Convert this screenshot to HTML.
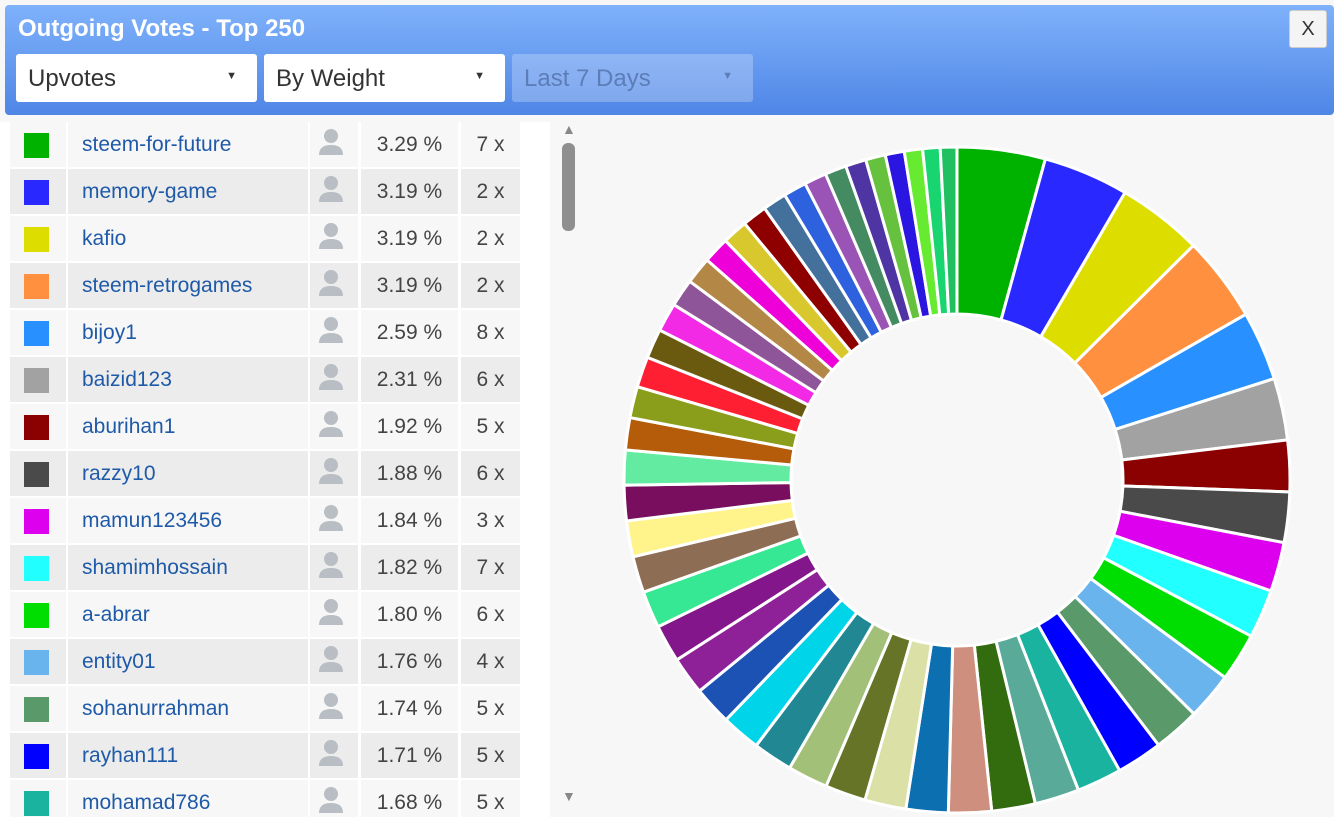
<!DOCTYPE html>
<html><head><meta charset="utf-8"><style>
body{margin:0;width:1334px;height:817px;background:#f7f7f7;font-family:"Liberation Sans",sans-serif;overflow:hidden;position:relative}
#hdr{position:absolute;left:5px;top:5px;width:1329px;height:110px;border-radius:4px;background:linear-gradient(#7fb2fb,#4f86e6);}
#title{position:absolute;left:13px;top:10px;color:#fff;font-weight:bold;font-size:24px}
.dd{position:absolute;top:49px;width:241px;height:48px;background:#fff;border-radius:3px;font-size:24px;color:#333;box-sizing:border-box;padding:11px 12px}
.dd span{position:absolute;right:20px;top:16px;font-size:11px}
#close{position:absolute;left:1284px;top:5px;width:38px;height:38px;background:#f4f4f4;border-radius:3px;border:1px solid #ccc;box-sizing:border-box;text-align:center;line-height:36px;font-size:20px;color:#333}
#list{position:absolute;left:0;top:122px;width:550px;height:695px;background:#fff;overflow:hidden}
.row{position:absolute;left:10px;width:510px;height:45px;font-size:21px}
.row div{position:absolute;top:0;height:45px;line-height:45px;box-sizing:border-box}
.sw{left:0;width:56px}.sw i{position:absolute;left:14px;top:11px;width:25px;height:25px}
.nm{left:58px;width:240px;padding-left:14px;color:#1f5aa8}
.ic{left:300px;width:48px}
.pc{left:351px;width:97px;text-align:center;color:#444}
.ct{left:451px;width:59px;text-align:center;color:#444}
#sb{position:absolute;left:562px;top:143px;width:13px;height:88px;border-radius:6px;background:#8f8f8f}
</style></head><body>
<div id="hdr">
<div id="title">Outgoing Votes - Top 250</div>
<div class="dd" style="left:11px">Upvotes<span>▼</span></div>
<div class="dd" style="left:259px">By Weight<span>▼</span></div>
<div class="dd" style="left:507px;background:rgba(255,255,255,0.25);color:#5d7db8">Last 7 Days<span>▼</span></div>
<div id="close">X</div>
</div>
<div id="list"></div>
<div style="position:absolute;left:562px;top:121px;font-size:14px;color:#888">▲</div>
<div id="sb"></div>
<div style="position:absolute;left:562px;top:788px;font-size:14px;color:#888">▼</div>
<svg id="chart" width="1334" height="817" style="position:absolute;left:0;top:0;pointer-events:none"></svg>
<script>
const names=["steem-for-future","memory-game","kafio","steem-retrogames","bijoy1","baizid123","aburihan1","razzy10","mamun123456","shamimhossain","a-abrar","entity01","sohanurrahman","rayhan111","mohamad786"];
const pcts=[3.29,3.19,3.19,3.19,2.59,2.31,1.92,1.88,1.84,1.82,1.80,1.76,1.74,1.71,1.68];
const counts=[7,2,2,2,8,6,5,6,3,7,6,4,5,5,5];
const restValues=[1.66,1.63,1.60,1.57,1.54,1.52,1.50,1.48,1.46,1.44,1.42,1.40,1.38,1.36,1.34,1.32,1.30,1.20,1.17,1.14,1.10,1.07,1.04,1.01,0.98,0.95,0.92,0.89,0.86,0.83,0.80,0.77,0.74,0.71,0.68,0.65,0.62];
const colors=["#00b200","#2929ff","#dddd00","#ff9040","#2890ff","#a2a2a2","#8b0000","#4a4a4a","#dd00ee","#22ffff","#00dd00","#6ab4ee","#5a9a6a","#0000ff","#1ab39f",
"#5aaa9a","#336b0f","#cf8f7e","#0b6fb0","#dbe0a6","#657426","#a3c079","#218893","#00d4e8","#1c52b4","#8e2197","#82168a","#36e893","#8e6d55","#fff48b","#790e5e","#62eba1","#b55c0a","#8a9e1b","#ff1f33","#6a5a10","#f22ae6","#8e5598","#b38746","#ee00d9","#d8c82d","#8e0000","#44709c","#2e61de","#9a54b5","#458b62","#4f34a3","#66c13f","#2a16e0","#66eb31","#18d570","#20c060"];
const list=document.getElementById('list');
names.forEach((n,i)=>{
 const r=document.createElement('div');r.className='row';r.style.top=(i*47)+'px';
 
 
 const bg=i%2?'#ececec':'#f7f7f7';
 r.innerHTML=`<div class="sw" style="background:${bg}"><i style="background:${colors[i]}"></i></div><div class="nm" style="background:${bg}">${n}</div><div class="ic" style="background:${bg}"><svg width="48" height="45"><circle cx="21" cy="14" r="7" fill="#b8bec4"/><path d="M9 33 Q9 23 21 23 Q33 23 33 33 Z" fill="#b8bec4"/></svg></div><div class="pc" style="background:${bg}">${pcts[i].toFixed(2)} %</div><div class="ct" style="background:${bg}">${counts[i]} x</div>`;
 list.appendChild(r);
});
const vals=pcts.concat(restValues);
const total=vals.reduce((a,b)=>a+b,0);
const cx=957,cy=480,R=333,r0=166;
const svg=document.getElementById('chart');
function pt(a,rad){return [cx+rad*Math.sin(a),cy-rad*Math.cos(a)];}
let acc=0;
vals.forEach((v,i)=>{
 const a0=acc/total*2*Math.PI;acc+=v;const a1=acc/total*2*Math.PI;
 const [x0,y0]=pt(a0,R),[x1,y1]=pt(a1,R),[x2,y2]=pt(a1,r0),[x3,y3]=pt(a0,r0);
 const p=document.createElementNS('http://www.w3.org/2000/svg','path');
 p.setAttribute('d',`M${x0},${y0}A${R},${R} 0 0 1 ${x1},${y1}L${x2},${y2}A${r0},${r0} 0 0 0 ${x3},${y3}Z`);
 p.setAttribute('fill',colors[i%colors.length]);p.setAttribute('stroke','#fff');p.setAttribute('stroke-width','3');
 
 
 svg.appendChild(p);
});
</script>
</body></html>
